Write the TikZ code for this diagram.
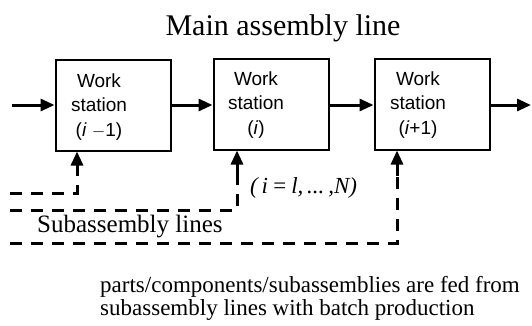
\documentclass[tikz,border=0pt]{standalone}
\usepackage{fontspec}
\setmainfont{Liberation Serif}
\setsansfont{Liberation Sans}
\usetikzlibrary{arrows.meta}
\tikzset{
  wsbox/.style={draw, line width=2pt, minimum width=115pt, minimum height=91pt, inner sep=0pt},
  wslabel/.style={font=\sffamily\fontsize{19}{24.5}\selectfont, align=center, inner sep=0pt},
  flow/.style={line width=3pt, -{Triangle[length=14pt,width=12pt]}},
  feed/.style={line width=3pt, dash pattern=on 12pt off 9pt},
  feedtip/.style={line width=3pt, -{Triangle[length=14pt,width=12pt]}}
}
\begin{document}
\begin{tikzpicture}[x=1pt,y=-1pt]
\useasboundingbox (0,0) rectangle (532,325);

\node[font=\fontsize{30}{34}\selectfont] (title) at (283,28) {Main assembly line};

% work stations
\node[wsbox] (b1) at (113,105) {};
\node[wsbox] (b2) at (271,104) {};
\node[wsbox] (b3) at (432,104) {};
\node[wslabel] (l1) at (99,107) {Work\\station\\(\textit{i} $-$1)};
\node[wslabel] (l2) at (256,105) {Work\\station\\(\textit{i})};
\node[wslabel] (l3) at (418,105) {Work\\station\\(\textit{i}+1)};

% main line flow
\coordinate (in) at (12,105);
\coordinate (out) at (531,105);
\draw[flow] (in) -- (b1.west |- in);
\draw[flow] (b1.east |- in) -- (b2.west |- in);
\draw[flow] (b2.east |- in) -- (b3.west |- in);
\draw[flow] (b3.east |- in) -- (out);

% subassembly feeds
\coordinate (s1) at (10,193);
\coordinate (c1) at (77,193);
\coordinate (t1) at (77,172);
\coordinate (s2) at (10,210);
\coordinate (c2) at (237,210);
\coordinate (t2) at (237,178);
\coordinate (s3) at (10,243);
\coordinate (c3) at (397,243);
\coordinate (t3) at (397,176);
\draw[feed] (s1) -- (c1) -- (t1);
\draw[feed] (s2) -- (c2) -- (t2);
\draw[feed] (s3) -- (c3) -- (t3);
\draw[feedtip] (t1) -- (t1 |- b1.south);
\draw[feedtip] (t2) -- (t2 |- b2.south);
\draw[feedtip] (t3) -- (t3 |- b3.south);

\node[anchor=west, inner sep=0pt, font=\fontsize{23}{26}\selectfont\itshape] (range) at (250,188) {(\,i\,=\,l,\,...\,,N)};
\node[anchor=west, inner sep=0pt, font=\fontsize{25}{28}\selectfont] (sub) at (37,227) {Subassembly lines};
\node[anchor=base west, align=left, inner sep=0pt, font=\fontsize{23}{23}\selectfont] (note) at (100,315) {parts/components/subassemblies are fed from\\subassembly lines with batch production};
\end{tikzpicture}
\end{document}
